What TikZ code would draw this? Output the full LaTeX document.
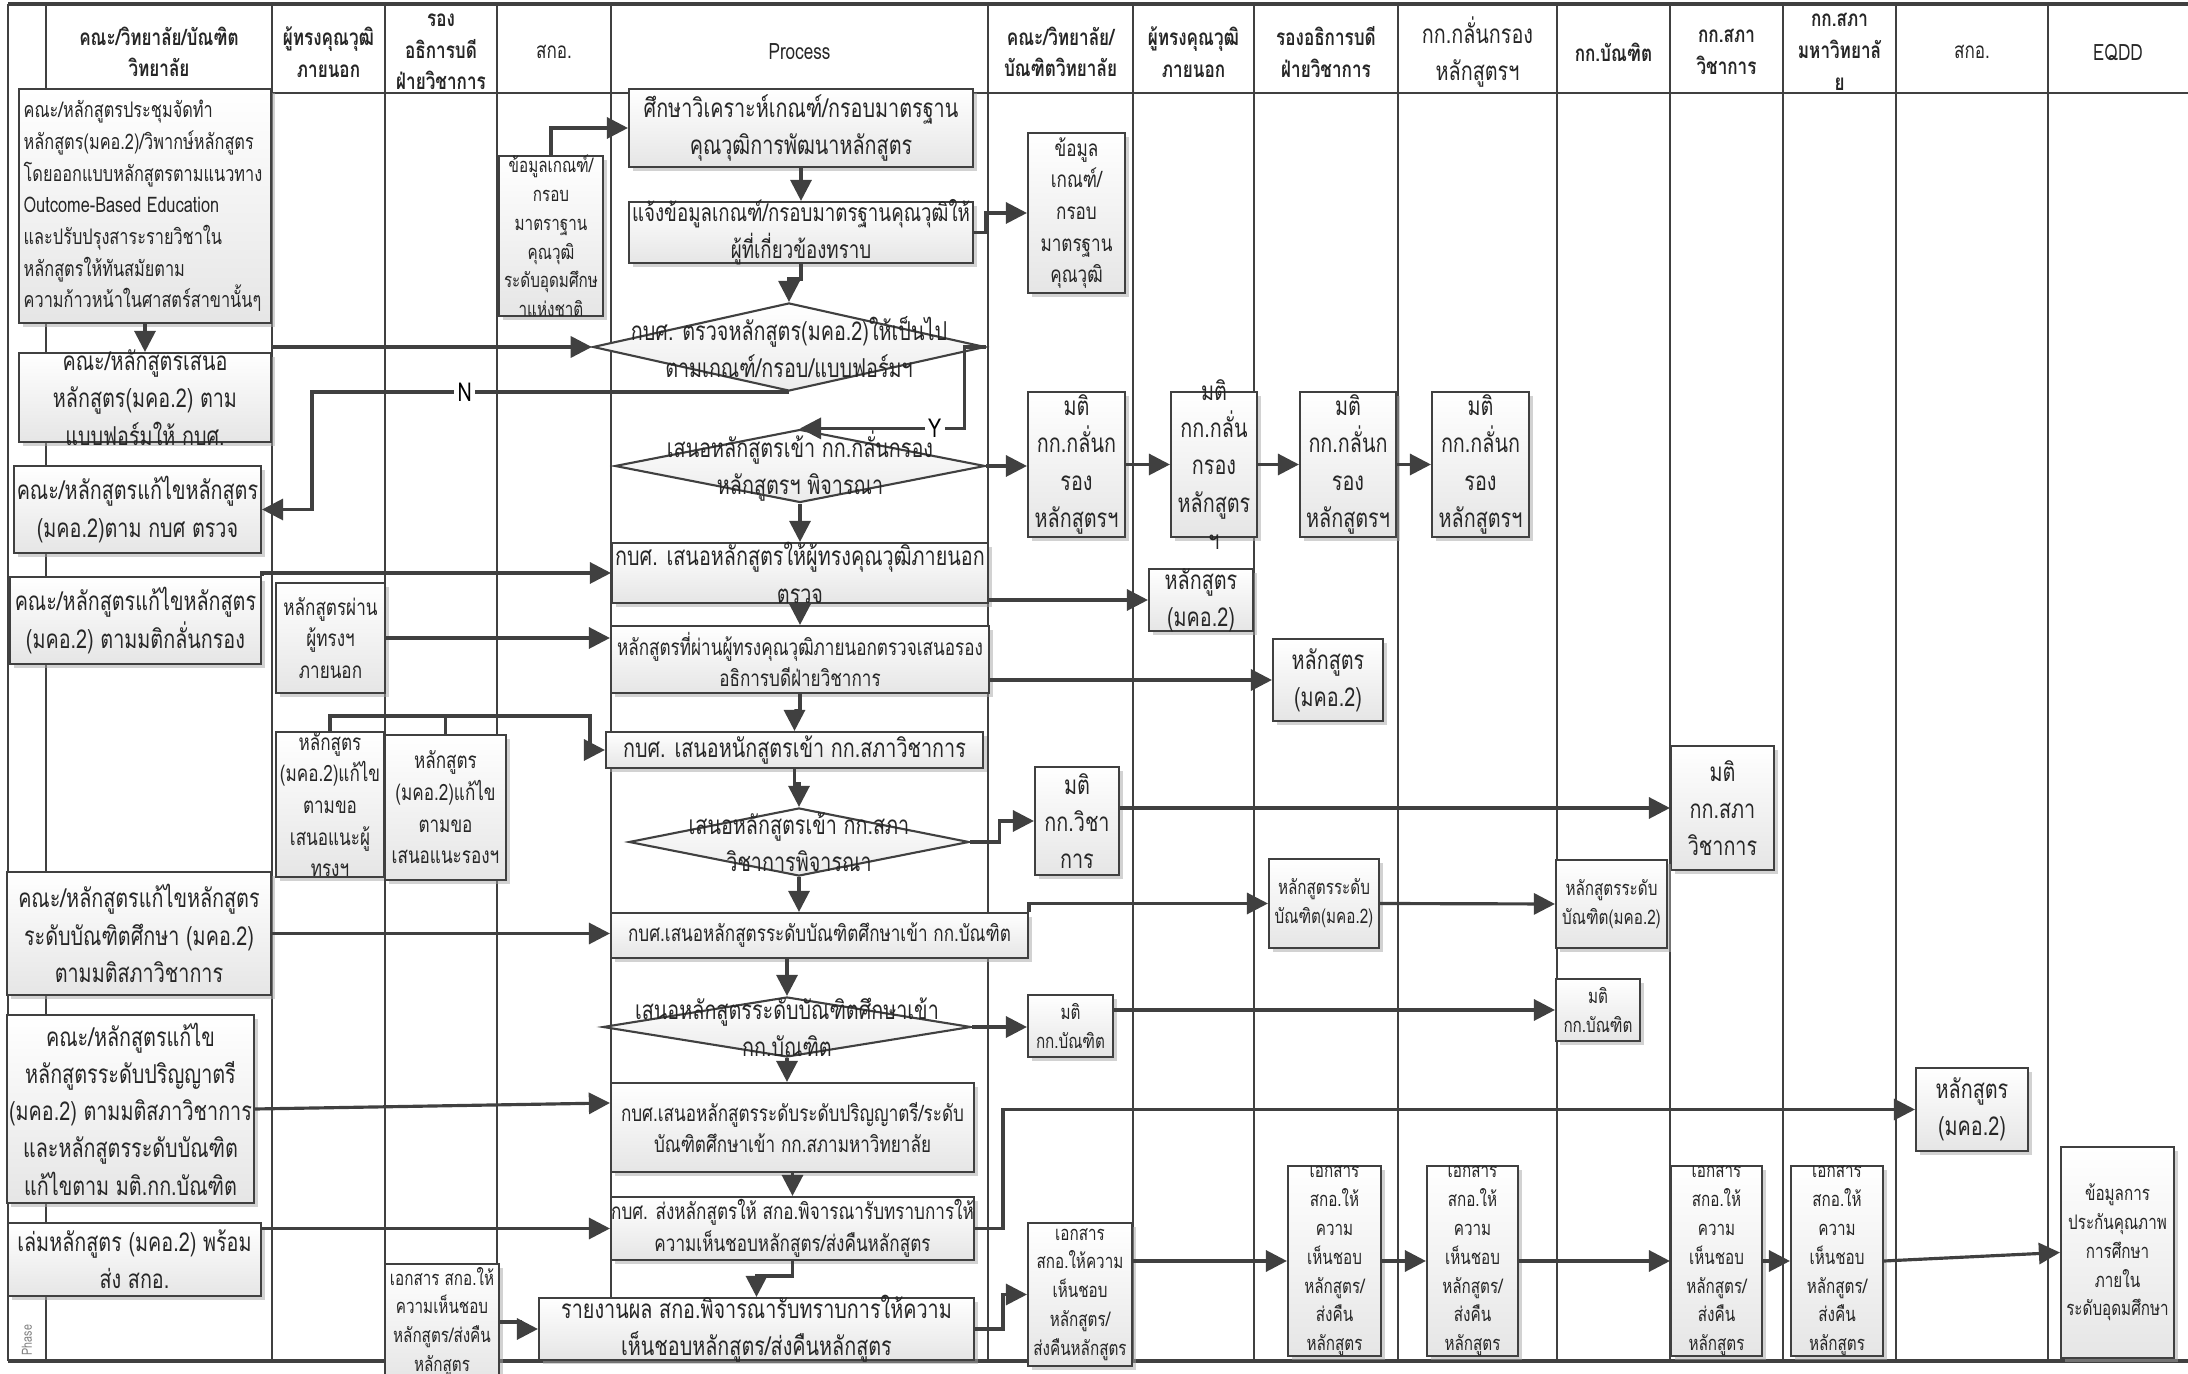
\documentclass[tikz,border=0pt]{standalone}
\usepackage{fontspec}
\setmainfont{Loma}[Script=Thai, FakeStretch=0.76]
\usetikzlibrary{arrows.meta,shapes.geometric,shadows,fit,calc}
\newcommand\fBig{\fontsize{7.4}{10.6}\selectfont}
\newcommand\fMid{\fontsize{6.4}{9}\selectfont}
\newcommand\fSml{\fontsize{5.7}{8.2}\selectfont}
\newcommand\bx[5]{%
  \path (#2) coordinate (#1-a) (#3) coordinate (#1-b);
  \node[box, fit=(#1-a)(#1-b)] (#1) {};
  \node[txt, #4] (#1-t) at (#1) {#5};}
\tikzset{
  lane/.style={draw=black!75, line width=0.6pt},
  box/.style={rectangle, draw=black!75, line width=0.6pt, inner sep=0pt,
    top color=white, bottom color=black!10,
    drop shadow={shadow xshift=1pt, shadow yshift=-1pt, fill=black!35, opacity=0.5}},
  dia/.style={diamond, draw=black!75, line width=0.6pt, inner sep=0pt,
    top color=white, bottom color=black!8},
  txt/.style={align=center, inner sep=0pt, text=black!85},
  hdr/.style={align=center, inner sep=0pt, text=black!85, font=\fMid\bfseries},
  arr/.style={draw=black!75, line width=0.9pt, -{Triangle[length=6pt,width=6pt]}},
  conn/.style={draw=black!75, line width=0.9pt},
  lbl/.style={fill=white, inner sep=1pt, font=\fBig, text=black}
}
\begin{document}
\begin{tikzpicture}[x=0.01cm, y=-0.01cm]
\useasboundingbox (0,0) rectangle (2188,1374);
% lanes
\draw[lane, line width=1pt] (8,4) -- (2188,4);
\draw[lane] (46,93) -- (2188,93);
\draw[lane, line width=1pt] (8,1361) -- (2188,1361);
\draw[lane] (8,4) -- (8,1361);
\foreach \x in {46,272,385,497,611,988,1133,1254,1398,1557,1670,1783,1896,2048}
  \draw[lane] (\x,4) -- (\x,1361);
% headers
\node[hdr] (h1) at (159,52) {คณะ/วิทยาลัย/บัณฑิต\\วิทยาลัย};
\node[hdr] (h2) at (328.5,52) {ผู้ทรงคุณวุฒิ\\ภายนอก};
\node[hdr] (h3) at (441,52) {รอง\\อธิการบดี\\ฝ่ายวิชาการ};
\node[hdr, font=\fMid] (h4) at (554,52) {สกอ.};
\node[hdr, font=\fMid] (h5) at (799.5,52) {Process};
\node[hdr] (h6) at (1060.5,52) {คณะ/วิทยาลัย/\\บัณฑิตวิทยาลัย};
\node[hdr] (h7) at (1193.5,52) {ผู้ทรงคุณวุฒิ\\ภายนอก};
\node[hdr] (h8) at (1326,52) {รองอธิการบดี\\ฝ่ายวิชาการ};
\node[hdr, font=\fBig] (h9) at (1477.5,52) {กก.กลั่นกรอง\\หลักสูตรฯ};
\node[hdr] (h10) at (1613.5,52) {กก.บัณฑิต};
\node[hdr] (h11) at (1726.5,52) {กก.สภา\\วิชาการ};
\node[hdr] (h12) at (1839.5,52) {กก.สภา\\มหาวิทยาลั\\ย};
\node[hdr, font=\fMid] (h13) at (1972,52) {สกอ.};
\node[hdr, font=\fMid] (h14) at (2118,52) {EQDD};
\node[rotate=90, font=\fontsize{4}{5}\selectfont, text=black!50, inner sep=0pt] (ph) at (27,1340) {Phase};
% boxes
\path (19,89) coordinate (A1-a) (271,323) coordinate (A1-b);
\node[box, fit=(A1-a)(A1-b)] (A1) {};
\node[txt, align=left, anchor=west, font=\fontsize{6.1}{9}\selectfont] (A1-t) at (23,206) {คณะ/หลักสูตรประชุมจัดทำ\\หลักสูตร(มคอ.2)/วิพากษ์หลักสูตร\\โดยออกแบบหลักสูตรตามแนวทาง\\Outcome-Based Education\\และปรับปรุงสาระรายวิชาใน\\หลักสูตรให้ทันสมัยตาม\\ความก้าวหน้าในศาสตร์สาขานั้นๆ};
\bx{A2}{499,156}{603,316}{font=\fSml}{ข้อมูลเกณฑ์/\\กรอบ\\มาตราฐาน\\คุณวุฒิ\\ระดับอุดมศึกษ\\าแห่งชาติ}
\bx{P1}{629,89}{973,167}{font=\fBig}{ศึกษาวิเคราะห์เกณฑ์/กรอบมาตรฐาน\\คุณวุฒิการพัฒนาหลักสูตร}
\bx{P2}{629,202}{973,263}{font=\fontsize{7.0}{10.6}\selectfont}{แจ้งข้อมูลเกณฑ์/กรอบมาตรฐานคุณวุฒิให้\\ผู้ที่เกี่ยวข้องทราบ}
\bx{C0}{1028,133}{1125,293}{font=\fMid}{ข้อมูล\\เกณฑ์/\\กรอบ\\มาตรฐาน\\คุณวุฒิ}
\node[dia, minimum width=3.92cm, minimum height=0.88cm] (D1) at (789,347) {};
\node[txt, font=\fBig] (D1-t) at (D1) {กบศ. ตรวจหลักสูตร(มคอ.2)ให้เป็นไป\\ตามเกณฑ์/กรอบ/แบบฟอร์มฯ};
\bx{A3}{19,353}{271,442}{font=\fBig}{คณะ/หลักสูตรเสนอ\\หลักสูตร(มคอ.2) ตาม\\แบบฟอร์มให้ กบศ.}
\node[dia, minimum width=3.70cm, minimum height=0.73cm] (D2) at (800,466) {};
\node[txt, font=\fBig] (D2-t) at (D2) {เสนอหลักสูตรเข้า กก.กลั่นกรอง\\หลักสูตรฯ พิจารณา};
\bx{A4}{14,466}{261,553}{font=\fBig}{คณะ/หลักสูตรแก้ไขหลักสูตร\\(มคอ.2)ตาม กบศ ตรวจ}
\bx{C1}{1028,392}{1125,537}{font=\fBig}{มติ\\กก.กลั่นก\\รอง\\หลักสูตรฯ}
\bx{C2}{1171,392}{1257,537}{font=\fBig}{มติ\\กก.กลั่น\\กรอง\\หลักสูตร\\ฯ}
\bx{C3}{1300,392}{1396,537}{font=\fBig}{มติ\\กก.กลั่นก\\รอง\\หลักสูตรฯ}
\bx{C4}{1432,392}{1529,537}{font=\fBig}{มติ\\กก.กลั่นก\\รอง\\หลักสูตรฯ}
\bx{P3}{612,543}{988,603}{font=\fBig}{กบศ. เสนอหลักสูตรให้ผู้ทรงคุณวุฒิภายนอก\\ตรวจ}
\bx{A5}{10,577}{261,664}{font=\fBig}{คณะ/หลักสูตรแก้ไขหลักสูตร\\(มคอ.2) ตามมติกลั่นกรอง}
\bx{C5}{1149,569}{1253,631}{font=\fBig}{หลักสูตร\\(มคอ.2)}
\bx{B1}{276,583}{385,693}{font=\fMid}{หลักสูตรผ่าน\\ผู้ทรงฯ\\ภายนอก}
\bx{P4}{611,626}{989,693}{font=\fMid}{หลักสูตรที่ผ่านผู้ทรงคุณวุฒิภายนอกตรวจเสนอรอง\\อธิการบดีฝ่ายวิชาการ}
\bx{C6}{1273,639}{1383,721}{font=\fBig}{หลักสูตร\\(มคอ.2)}
\bx{P5}{606,732}{983,768}{font=\fBig}{กบศ. เสนอหนักสูตรเข้า กก.สภาวิชาการ}
\bx{B2}{276,732}{384,877}{font=\fMid}{หลักสูตร\\(มคอ.2)แก้ไข\\ตามขอ\\เสนอแนะผู้\\ทรงฯ}
\bx{B3}{385,735}{506,880}{font=\fMid}{หลักสูตร\\(มคอ.2)แก้ไข\\ตามขอ\\เสนอแนะรองฯ}
\node[dia, minimum width=3.40cm, minimum height=0.68cm] (D3) at (799,842) {};
\node[txt, font=\fBig] (D3-t) at (D3) {เสนอหลักสูตรเข้า กก.สภา\\วิชาการพิจารณา};
\bx{C7}{1035,767}{1119,875}{font=\fBig}{มติ\\กก.วิชา\\การ}
\bx{C8}{1671,746}{1774,870}{font=\fBig}{มติ\\กก.สภา\\วิชาการ}
\bx{A6}{7,872}{271,995}{font=\fBig}{คณะ/หลักสูตรแก้ไขหลักสูตร\\ระดับบัณฑิตศึกษา (มคอ.2)\\ตามมติสภาวิชาการ}
\bx{P6}{611,913}{1028,958}{font=\fMid}{กบศ.เสนอหลักสูตรระดับบัณฑิตศึกษาเข้า กก.บัณฑิต}
\bx{C9}{1269,859}{1379,948}{font=\fSml}{หลักสูตรระดับ\\บัณฑิต(มคอ.2)}
\bx{C10}{1556,860}{1667,948}{font=\fSml}{หลักสูตรระดับ\\บัณฑิต(มคอ.2)}
\node[dia, minimum width=3.68cm, minimum height=0.60cm] (D4) at (787,1027) {};
\node[txt, font=\fBig] (D4-t) at (D4) {เสนอหลักสูตรระดับบัณฑิตศึกษาเข้า\\กก.บัณฑิต};
\bx{C11}{1028,995}{1113,1057}{font=\fSml}{มติ\\กก.บัณฑิต}
\bx{C12}{1556,979}{1640,1041}{font=\fSml}{มติ\\กก.บัณฑิต}
\bx{A7}{7,1015}{254,1203}{font=\fBig}{คณะ/หลักสูตรแก้ไข\\หลักสูตรระดับปริญญาตรี\\(มคอ.2) ตามมติสภาวิชาการ\\และหลักสูตรระดับบัณฑิต\\แก้ไขตาม มติ.กก.บัณฑิต}
\bx{P7}{611,1083}{974,1172}{font=\fMid}{กบศ.เสนอหลักสูตรระดับระดับปริญญาตรี/ระดับ\\บัณฑิตศึกษาเข้า กก.สภามหาวิทยาลัย}
\bx{C13}{1916,1068}{2028,1151}{font=\fBig}{หลักสูตร\\(มคอ.2)}
\bx{P8}{611,1197}{974,1260}{font=\fMid}{กบศ. ส่งหลักสูตรให้ สกอ.พิจารณารับทราบการให้\\ความเห็นชอบหลักสูตร/ส่งคืนหลักสูตร}
\bx{A8}{8,1223}{261,1296}{font=\fBig}{เล่มหลักสูตร (มคอ.2) พร้อม\\ส่ง สกอ.}
\bx{P9}{539,1298}{974,1360}{font=\fBig}{รายงานผล สกอ.พิจารณารับทราบการให้ความ\\เห็นชอบหลักสูตร/ส่งคืนหลักสูตร}
\bx{B4}{385,1264}{499,1380}{font=\fSml}{เอกสาร สกอ.ให้\\ความเห็นชอบ\\หลักสูตร/ส่งคืน\\หลักสูตร}
\bx{C14}{1028,1223}{1132,1366}{font=\fSml}{เอกสาร\\สกอ.ให้ความ\\เห็นชอบ\\หลักสูตร/\\ส่งคืนหลักสูตร}
\bx{C15}{1288,1166}{1381,1356}{font=\fSml}{เอกสาร\\สกอ.ให้\\ความ\\เห็นชอบ\\หลักสูตร/\\ส่งคืน\\หลักสูตร}
\bx{C16}{1427,1166}{1518,1356}{font=\fSml}{เอกสาร\\สกอ.ให้\\ความ\\เห็นชอบ\\หลักสูตร/\\ส่งคืน\\หลักสูตร}
\bx{C17}{1671,1166}{1762,1356}{font=\fSml}{เอกสาร\\สกอ.ให้\\ความ\\เห็นชอบ\\หลักสูตร/\\ส่งคืน\\หลักสูตร}
\bx{C18}{1791,1166}{1883,1356}{font=\fSml}{เอกสาร\\สกอ.ให้\\ความ\\เห็นชอบ\\หลักสูตร/\\ส่งคืน\\หลักสูตร}
\bx{C19}{2061,1147}{2174,1358}{font=\fSml}{ข้อมูลการ\\ประกันคุณภาพ\\การศึกษา\\ภายใน\\ระดับอุดมศึกษา}
% connectors
\draw[arr] (A2.north) |- (P1.west);
\draw[arr] (P1.south) -- (P2.north);
\draw[arr] (P2.east) -- ++(12,0) |- (C0.west);
\draw[arr] (P2.south) -- ++(0,15) -| (D1.north);
\draw[arr] (A1.south) -- (A3.north);
\draw[arr] (A3.north east |- D1.west) -- (D1.west);
\draw[arr] (D1.south) -| node[lbl, pos=0.34] {N} ($(A4.east)+(50,0)$) -- (A4.east);
\draw[arr] (D1.east) -- ++(-22,0) |- node[lbl, pos=0.59] {Y} (D2.north);
\draw[arr] (D2.south) -- (P3.north);
\draw[arr] (D2.east) -- (D2.east -| C1.west);
\draw[arr] (C1.east) -- (C2.west);
\draw[arr] (C2.east) -- (C3.west);
\draw[arr] (C3.east) -- (C4.west);
\draw[arr] (P3.east |- C5.west) -- (C5.west);
\draw[arr] (A5.north east) |- (P3.west);
\draw[arr] (P3.south) -- (P4.north);
\draw[arr] (B1.east) -- (B1.east -| P4.west);
\draw[arr] (P4.east |- C6.west) -- (C6.west);
\draw[arr] (P4.south) -- ++(0,17) -| (P5.north);
\draw[arr] (B2.north) -- ++(0,-15) -| ($(P5.west)+(-15,0)$) -- (P5.west);
\draw[conn] (B3.north) -- ++(0,-18);
\draw[arr] (P5.south) -- ++(0,15) -| (D3.north);
\draw[arr] (D3.east) -- ++(29,0) |- (C7.west);
\draw[arr] (C7.east |- C8.west) -- (C8.west);
\draw[arr] (D3.south) -- (D3.south |- P6.north);
\draw[arr] (A6.east) -- (A6.east -| P6.west);
\draw[arr] (P6.north east) |- (C9.west);
\draw[arr] (C9.east) -- (C10.west);
\draw[arr] (D4.north |- P6.south) -- (D4.north);
\draw[arr] (D4.east) -- (D4.east -| C11.west);
\draw[arr] (C11.east |- C12.west) -- (C12.west);
\draw[arr] (D4.south) -- (D4.south |- P7.north);
\draw[arr] (A7.east) -- (P7.west |- 0,1103);
\draw[arr] (P7.south) -- (P8.north);
\draw[arr] (A8.east |- P8.west) -- (P8.west);
\draw[arr] (P8.south) -- ++(0,15) -| (P9.north);
\draw[arr] (B4.east) -- ++(20,0) |- (P9.west);
\draw[arr] (P8.east) -- ++(28,0) |- (C13.west);
\draw[arr] (P9.east) -- ++(28,0) |- (C14.west);
\draw[arr] (C14.east |- C15.west) -- (C15.west);
\draw[arr] (C15.east) -- (C16.west);
\draw[arr] (C16.east) -- (C17.west);
\draw[arr] (C17.east) -- (C18.west);
\draw[arr] (C18.east) -- (C19.west);
\end{tikzpicture}
\end{document}
